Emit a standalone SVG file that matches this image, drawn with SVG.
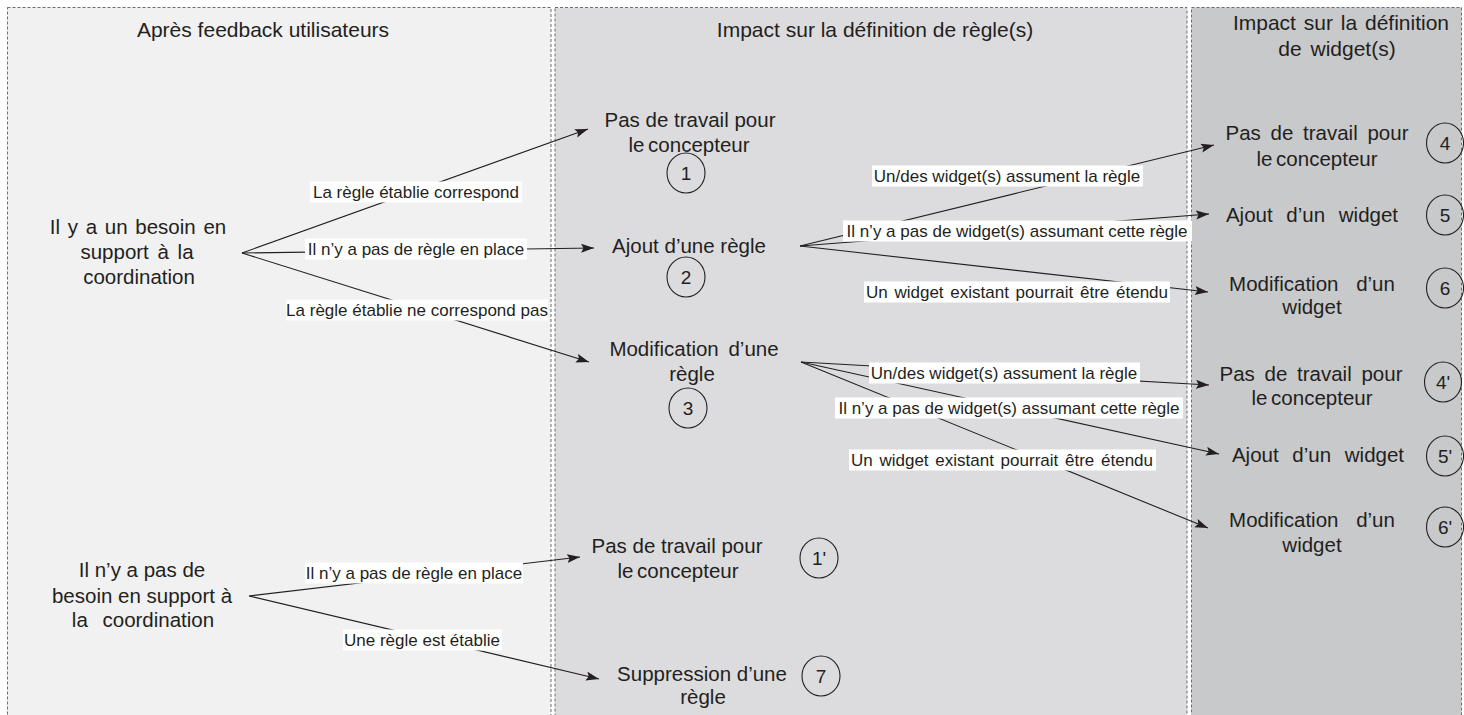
<svg xmlns="http://www.w3.org/2000/svg" width="1464" height="715" viewBox="0 0 1464 715">
<style>
.pn{stroke:#6d6d6d;stroke-width:1;stroke-dasharray:3 2}
.hd{font-family:"Liberation Sans",Arial,sans-serif;font-size:21px;fill:#231f20;text-anchor:middle}
.nt{font-family:"Liberation Sans",Arial,sans-serif;font-size:20.5px;fill:#231f20;text-anchor:middle}
.lt{font-family:"Liberation Sans",Arial,sans-serif;font-size:17px;fill:#231f20;text-anchor:middle}
.lb{fill:#ffffff}
.cn{stroke:#231f20;stroke-width:1.1;fill:none;marker-end:url(#ah)}
.ci{stroke:#231f20;stroke-width:1.1;fill:none}
.cnum{font-family:"Liberation Sans",Arial,sans-serif;font-size:19px;fill:#231f20;text-anchor:middle}
</style>
<defs>
<marker id="ah" markerUnits="userSpaceOnUse" markerWidth="14" markerHeight="10" refX="13" refY="4.5" orient="auto">
<path d="M0,0 L13,4.5 L0,9 L2.5,4.5 z" fill="#231f20"/>
</marker>
</defs>
<g id="panels">
<rect class="pn" x="7.5" y="7.5" width="543.5" height="720" fill="#f1f1f1"/>
<rect class="pn" x="555" y="7.5" width="632" height="720" fill="#dcdcde"/>
<rect class="pn" x="1191.5" y="7.5" width="270" height="720" fill="#c8c9cb"/>
<text class="hd" x="263" y="37">Après feedback utilisateurs</text>
<text class="hd" x="875" y="37">Impact sur la définition de règle(s)</text>
<text class="hd" x="1341" y="30" word-spacing="2">Impact sur la définition</text>
<text class="hd" x="1337" y="56" word-spacing="3">de widget(s)</text>
</g>
<g id="connectors">
<line class="cn" x1="242" y1="253" x2="588" y2="129"/>
<line class="cn" x1="242" y1="253" x2="594" y2="248"/>
<line class="cn" x1="242" y1="253" x2="589" y2="362"/>
<line class="cn" x1="800" y1="246" x2="1214" y2="145"/>
<line class="cn" x1="800" y1="246" x2="1209" y2="214"/>
<line class="cn" x1="800" y1="246" x2="1208" y2="292"/>
<line class="cn" x1="801" y1="362" x2="1209" y2="385"/>
<line class="cn" x1="801" y1="362" x2="1219" y2="454"/>
<line class="cn" x1="801" y1="362" x2="1208" y2="528"/>
<line class="cn" x1="249" y1="596" x2="580" y2="557"/>
<line class="cn" x1="249" y1="596" x2="599" y2="679"/>
<g id="edge-labels">
<rect class="lb" x="310" y="181.5" width="212" height="21"/>
<text class="lt" x="416" y="198">La règle établie correspond</text>
<rect class="lb" x="305" y="238.5" width="222" height="21"/>
<text class="lt" x="416" y="255">Il n’y a pas de règle en place</text>
<rect class="lb" x="286" y="299.5" width="262" height="21"/>
<text class="lt" x="417" y="316">La règle établie ne correspond pas</text>
<rect class="lb" x="872" y="165.5" width="271" height="21"/>
<text class="lt" x="1007" y="182">Un/des widget(s) assument la règle</text>
<rect class="lb" x="843" y="220.5" width="349" height="21"/>
<text class="lt" x="1017" y="237">Il n’y a pas de widget(s) assumant cette règle</text>
<rect class="lb" x="864" y="281.5" width="306" height="21"/>
<text class="lt" x="1017" y="298" word-spacing="2">Un widget existant pourrait être étendu</text>
<rect class="lb" x="869" y="362.5" width="271" height="21"/>
<text class="lt" x="1004" y="379">Un/des widget(s) assument la règle</text>
<rect class="lb" x="835" y="397.5" width="348" height="21"/>
<text class="lt" x="1009" y="414">Il n’y a pas de widget(s) assumant cette règle</text>
<rect class="lb" x="849" y="449.5" width="307" height="21"/>
<text class="lt" x="1002" y="466" word-spacing="2">Un widget existant pourrait être étendu</text>
<rect class="lb" x="305" y="562.5" width="218" height="21"/>
<text class="lt" x="414" y="579">Il n’y a pas de règle en place</text>
<rect class="lb" x="343" y="629.5" width="159" height="21"/>
<text class="lt" x="422" y="646">Une règle est établie</text>
</g>
</g>
<g id="n-besoin">
<text class="nt" x="138" y="234" word-spacing="2">Il y a un besoin en</text>
<text class="nt" x="137" y="259" word-spacing="3">support à la</text>
<text class="nt" x="139" y="284">coordination</text>
</g>
<g id="n-pas-besoin">
<text class="nt" x="142" y="577">Il n’y a pas de</text>
<text class="nt" x="142" y="603">besoin en support à</text>
<text class="nt" x="143" y="627" word-spacing="9">la coordination</text>
</g>
<g id="n1">
<text class="nt" x="690" y="127">Pas de travail pour</text>
<text class="nt" x="689" y="152" word-spacing="-2">le concepteur</text>
<ellipse class="ci" cx="686" cy="173" rx="19" ry="20"/>
<text class="cnum" x="686" y="180">1</text>
</g>
<g id="n2">
<text class="nt" x="689" y="253">Ajout d’une règle</text>
<ellipse class="ci" cx="686" cy="277" rx="19" ry="20"/>
<text class="cnum" x="686" y="284">2</text>
</g>
<g id="n3">
<text class="nt" x="694" y="356" word-spacing="4">Modification d’une</text>
<text class="nt" x="692" y="381">règle</text>
<ellipse class="ci" cx="688" cy="408" rx="19" ry="20"/>
<text class="cnum" x="688" y="415">3</text>
</g>
<g id="n1p">
<text class="nt" x="677" y="553">Pas de travail pour</text>
<text class="nt" x="678" y="578" word-spacing="-2">le concepteur</text>
<ellipse class="ci" cx="819" cy="558" rx="19" ry="20"/>
<text class="cnum" x="819" y="565">1'</text>
</g>
<g id="n7">
<text class="nt" x="702" y="681">Suppression d’une</text>
<text class="nt" x="703" y="704">règle</text>
<ellipse class="ci" cx="821" cy="676" rx="19" ry="20"/>
<text class="cnum" x="821" y="683">7</text>
</g>
<g id="n4">
<text class="nt" x="1317" y="140" word-spacing="4">Pas de travail pour</text>
<text class="nt" x="1317" y="166" word-spacing="-2">le concepteur</text>
<ellipse class="ci" cx="1445" cy="143" rx="18.5" ry="20"/>
<text class="cnum" x="1445" y="150">4</text>
</g>
<g id="n5">
<text class="nt" x="1312" y="222" word-spacing="8">Ajout d’un widget</text>
<ellipse class="ci" cx="1445" cy="215" rx="18.5" ry="20"/>
<text class="cnum" x="1445" y="222">5</text>
</g>
<g id="n6">
<text class="nt" x="1312" y="291" word-spacing="12">Modification d’un</text>
<text class="nt" x="1312" y="314">widget</text>
<ellipse class="ci" cx="1445" cy="288" rx="18.5" ry="20"/>
<text class="cnum" x="1445" y="295">6</text>
</g>
<g id="n4p">
<text class="nt" x="1311" y="381" word-spacing="4">Pas de travail pour</text>
<text class="nt" x="1312" y="405" word-spacing="-2">le concepteur</text>
<ellipse class="ci" cx="1443" cy="382" rx="18.5" ry="20"/>
<text class="cnum" x="1443" y="389">4'</text>
</g>
<g id="n5p">
<text class="nt" x="1318" y="462" word-spacing="8">Ajout d’un widget</text>
<ellipse class="ci" cx="1445" cy="456" rx="18.5" ry="20"/>
<text class="cnum" x="1445" y="463">5'</text>
</g>
<g id="n6p">
<text class="nt" x="1312" y="527" word-spacing="12">Modification d’un</text>
<text class="nt" x="1312" y="552">widget</text>
<ellipse class="ci" cx="1445" cy="527" rx="18.5" ry="20"/>
<text class="cnum" x="1445" y="534">6'</text>
</g>
</svg>
